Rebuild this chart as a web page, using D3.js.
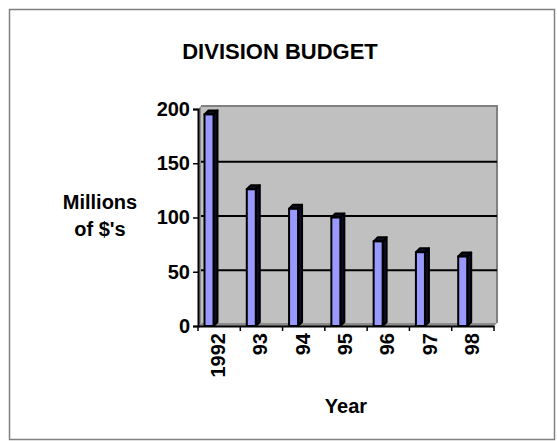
<!DOCTYPE html>
<html>
<head>
<meta charset="utf-8">
<script src="https://cdn.jsdelivr.net/npm/d3@7"></script>
<style>
  html, body { margin: 0; padding: 0; background: #fff; }
  svg { display: block; font-family: "Liberation Sans", Arial, sans-serif; font-weight: bold; }
</style>
</head>
<body>
<div id="chart"></div>
<script>
// Division budget, 3D-ish column chart
const years = ["1992", "93", "94", "95", "96", "97", "98"];
const budget = [195, 126, 108, 100, 78, 68, 64];
const yTicks = [0, 50, 100, 150, 200];

const width = 557, height = 441;
const depth = 3;      // 3D offset of the back wall
const barDepth = 4;   // 3D offset of each column

const svg = d3.select("#chart").append("svg")
  .attr("width", width)
  .attr("height", height);

// outer frame
svg.append("rect")
  .attr("x", 9.5).attr("y", 9.5)
  .attr("width", 545).attr("height", 430)
  .attr("fill", "#fff")
  .attr("stroke", "#808080")
  .attr("stroke-width", 1.5);

const x = d3.scaleBand().domain(years).range([198, 494]);
const y = d3.scaleLinear().domain([0, 200]).range([326, 109]);

const x0 = x.range()[0], x1 = x.range()[1];
const yTop = y(200), yBot = y(0);

// side wall (left strip) and floor
svg.append("polygon")
  .attr("points", [[x0, yTop], [x0 + depth, yTop - depth], [x0 + depth, yBot - depth], [x0, yBot]].join(" "))
  .attr("fill", "#8c8c8c");
svg.append("polygon")
  .attr("points", [[x0, yBot], [x0 + depth, yBot - depth], [x1 + depth, yBot - depth], [x1, yBot]].join(" "))
  .attr("fill", "#8c8c8c");

// back wall
svg.append("rect")
  .attr("x", x0 + depth).attr("y", yTop - depth)
  .attr("width", x1 - x0).attr("height", yBot - yTop)
  .attr("fill", "#c0c0c0");
svg.append("path")
  .attr("d", `M${x0 + depth},${yTop - depth}H${x1 + depth}V${yBot - depth}`)
  .attr("fill", "none")
  .attr("stroke", "#808080")
  .attr("stroke-width", 2);

// gridlines on the wall
svg.append("g")
  .selectAll("line")
  .data(yTicks.filter(t => t > 0 && t < 200))
  .join("line")
  .attr("x1", x0 + depth).attr("x2", x1 + depth)
  .attr("y1", d => y(d) - 1.5).attr("y2", d => y(d) - 1.5)
  .attr("stroke", "#000")
  .attr("stroke-width", 2);

// columns
const bars = svg.append("g")
  .selectAll("g")
  .data(years.map((yr, i) => ({ yr, v: budget[i] })))
  .join("g");

const bx = d => x(d.yr) + 6.5;
const bw = 9;

bars.append("polygon") // side
  .attr("points", d => [[bx(d) + bw, y(d.v)], [bx(d) + bw + barDepth, y(d.v) - barDepth],
    [bx(d) + bw + barDepth, yBot - barDepth], [bx(d) + bw, yBot]].join(" "))
  .attr("fill", "#0d0d26")
  .attr("stroke", "#000")
  .attr("stroke-width", 2)
  .attr("stroke-linejoin", "round");

bars.append("polygon") // top
  .attr("points", d => [[bx(d), y(d.v)], [bx(d) + barDepth, y(d.v) - barDepth],
    [bx(d) + bw + barDepth, y(d.v) - barDepth], [bx(d) + bw, y(d.v)]].join(" "))
  .attr("fill", "#0d0d26")
  .attr("stroke", "#000")
  .attr("stroke-width", 2)
  .attr("stroke-linejoin", "round");

bars.append("rect") // front
  .attr("x", bx)
  .attr("y", d => y(d.v))
  .attr("width", bw)
  .attr("height", d => yBot - y(d.v))
  .attr("fill", "#9999ff")
  .attr("stroke", "#000")
  .attr("stroke-width", 2);

// y axis
const yAxis = svg.append("g")
  .attr("transform", `translate(${x0},0)`)
  .call(d3.axisLeft(y).tickValues(yTicks).tickSize(5).tickPadding(3));
yAxis.select(".domain").attr("stroke", "#000").attr("stroke-width", 2);
yAxis.selectAll(".tick line").attr("stroke", "#000").attr("stroke-width", 1.5);
yAxis.selectAll(".tick text")
  .attr("fill", "#000")
  .style("font-size", "20px")
  .style("font-family", "'Liberation Sans', Arial, sans-serif")
  .style("font-weight", "bold");

// x axis
const xAxis = svg.append("g")
  .attr("transform", `translate(0,${yBot})`)
  .call(d3.axisBottom(x).tickSize(0).tickSizeOuter(0));
xAxis.select(".domain").attr("stroke", "#000").attr("stroke-width", 2);
xAxis.selectAll(".tick line").remove();
xAxis.selectAll(".tick text")
  .attr("fill", "#000")
  .attr("text-anchor", "end")
  .attr("transform", "rotate(-90)")
  .attr("x", -7)
  .attr("y", -1)
  .attr("dy", "0.35em")
  .style("font-size", "20px")
  .style("font-family", "'Liberation Sans', Arial, sans-serif")
  .style("font-weight", "bold");

// category boundary ticks
xAxis.append("g")
  .selectAll("line")
  .data(years.concat(["end"]))
  .join("line")
  .attr("x1", d => d === "end" ? x1 : x(d))
  .attr("x2", d => d === "end" ? x1 : x(d))
  .attr("y1", 0).attr("y2", 5)
  .attr("stroke", "#000")
  .attr("stroke-width", 1.5);

// titles
svg.append("text")
  .attr("x", 280).attr("y", 59)
  .attr("text-anchor", "middle")
  .style("font-size", "22px")
  .text("DIVISION BUDGET");

svg.append("text")
  .attr("x", 100).attr("y", 209)
  .attr("text-anchor", "middle")
  .style("font-size", "20px")
  .text("Millions");
svg.append("text")
  .attr("x", 100).attr("y", 236)
  .attr("text-anchor", "middle")
  .style("font-size", "20px")
  .text("of $'s");

svg.append("text")
  .attr("x", 346).attr("y", 413)
  .attr("text-anchor", "middle")
  .style("font-size", "20px")
  .text("Year");
</script>
</body>
</html>
